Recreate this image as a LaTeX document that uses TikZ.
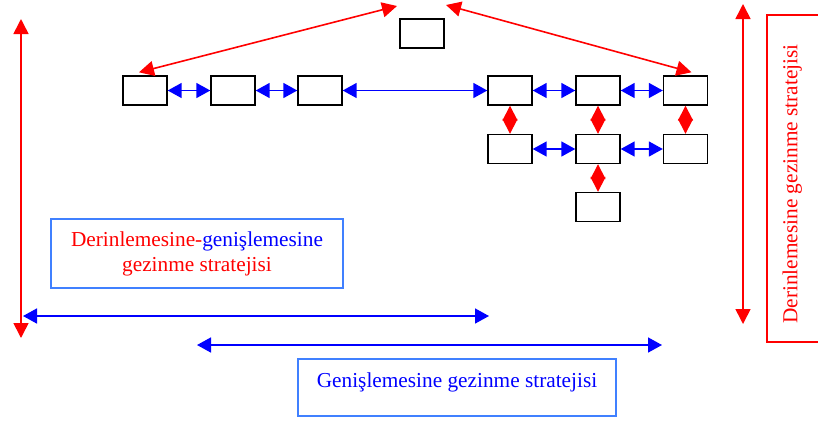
\documentclass[tikz,border=0pt]{standalone}
\usepackage{fontspec}
\setmainfont{Liberation Serif}
\usepackage{xcolor}
\usepackage{tikz}
\usetikzlibrary{arrows.meta}

\definecolor{lightblue}{RGB}{64,128,255}
\tikzset{
  box/.style={draw, line width=1.4pt, minimum width=44pt, minimum height=29pt, inner sep=0pt},
  blueline/.style={blue, line width=1.6pt, {Triangle[length=14pt,width=15pt]}-{Triangle[length=14pt,width=15pt]}},
  redline/.style={red, line width=1.6pt, {Triangle[length=15pt,width=15pt]}-{Triangle[length=15pt,width=15pt]}},
  label/.style={font=\fontsize{21.3}{25}\selectfont, align=center, line width=1.3pt}
}

\begin{document}
\begin{tikzpicture}[x=1pt,y=-1pt]
\useasboundingbox (0,0) rectangle (818,421);

\node[box] (top) at (422,33.5) {};

\node[box] (a1) at (145,90.5) {};
\node[box] (a2) at (233,90.5) {};
\node[box] (a3) at (320,90.5) {};
\node[box] (a4) at (510,90.5) {};
\node[box] (a5) at (598,90.5) {};
\node[box] (a6) at (685.5,90.5) {};

\node[box] (b4) at (510,149) {};
\node[box] (b5) at (598,149) {};
\node[box] (b6) at (685.5,149) {};

\node[box] (c5) at (598,207) {};

\draw[blueline] (a1) -- (a2);
\draw[blueline] (a2) -- (a3);
\draw[blueline] (a3) -- (a4);
\draw[blueline] (a4) -- (a5);
\draw[blueline] (a5) -- (a6);
\draw[blueline] (b4) -- (b5);
\draw[blueline] (b5) -- (b6);

\draw[redline] (a4) -- (b4);
\draw[redline] (a5) -- (b5);
\draw[redline] (a6) -- (b6);
\draw[redline] (b5) -- (c5);

\coordinate (tl) at (397,6);
\coordinate (tr) at (446,5);
\draw[redline] ([xshift=-6pt,yshift=3pt]a1.north) -- (tl);
\draw[redline] ([xshift=6pt,yshift=3pt]a6.north) -- (tr);

% side arrows
\coordinate (l1) at (21,19);
\coordinate (l2) at (21,338);
\draw[redline] (l1) -- (l2);
\coordinate (r1) at (743,4);
\coordinate (r2) at (743,324);
\draw[redline] (r1) -- (r2);

\coordinate (h1) at (23,316);
\coordinate (h2) at (489,316);
\draw[blueline] (h1) -- (h2);
\coordinate (g1) at (197,345);
\coordinate (g2) at (662,345);
\draw[blueline] (g1) -- (g2);

% labels
\node[label, draw=lightblue, minimum width=292pt, minimum height=69pt] (dg) at (197,253.5)
  {\textcolor{red}{Derinlemesine-}\textcolor{blue}{genişlemesine}\\ \textcolor{red}{gezinme stratejisi}};
\node[label, draw=lightblue, minimum width=318pt, minimum height=57pt, text=blue,
  text height=10pt, text depth=10pt] (gs) at (457,387.5)
  {Genişlemesine gezinme stratejisi};
\node[label, draw=red, text=red, rotate=90, minimum width=327pt, minimum height=70pt] (ds) at (802,178.5)
  {\raisebox{24pt}{Derinlemesine gezinme stratejisi}\hspace*{11pt}};

\end{tikzpicture}
\end{document}
